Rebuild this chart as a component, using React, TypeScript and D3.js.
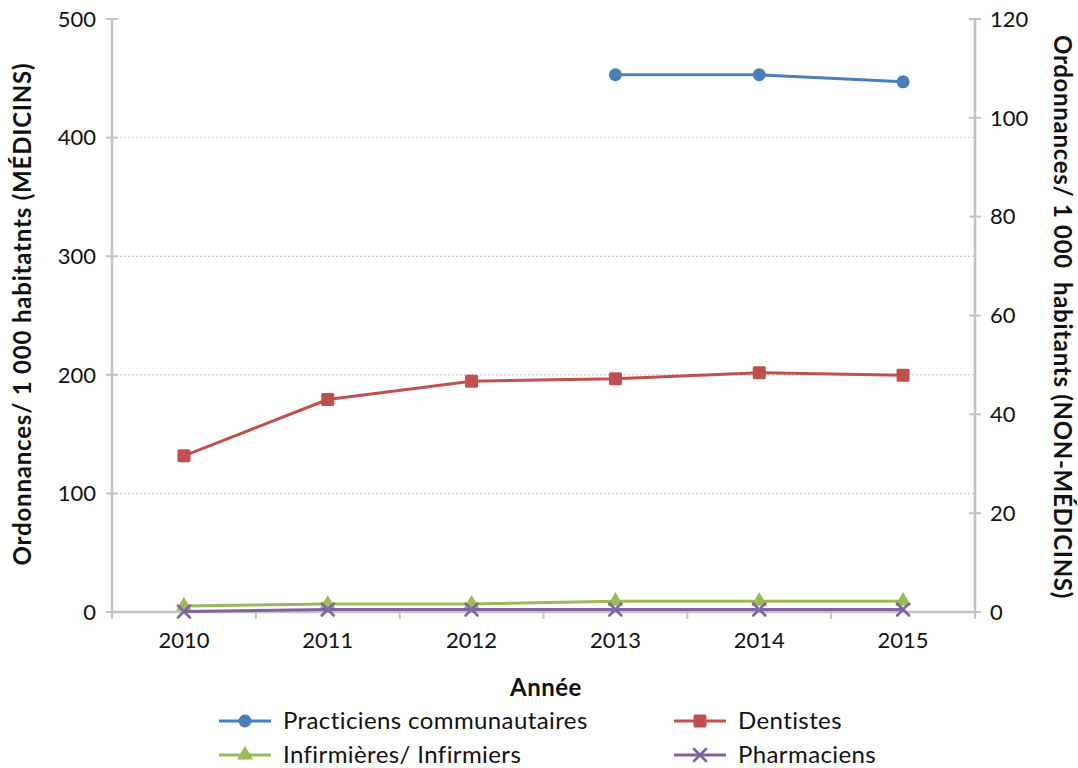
import React from 'react';
import * as d3 from 'd3';

// Prescriptions per 1 000 inhabitants, by prescriber group
const years = ['2010', '2011', '2012', '2013', '2014', '2015'];
const practiciens: (number | null)[] = [null, null, null, 453, 453, 447]; // left axis
const dentistes = [31.6, 43.0, 46.7, 47.2, 48.4, 47.9]; // right axis
const infirmieres = [1.2, 1.6, 1.6, 2.2, 2.2, 2.2]; // right axis
const pharmaciens = [0.1, 0.5, 0.5, 0.5, 0.5, 0.5]; // right axis
const leftTicks = [0, 100, 200, 300, 400, 500];
const rightTicks = [0, 20, 40, 60, 80, 100, 120];

const W = 1078;
const H = 768;
const FONT = 'Lato, "Open Sans", sans-serif';
const AXIS = '#c3c3c3';
const C_BLUE = '#4a7ebb';
const C_RED = '#c0504d';
const C_GREEN = '#9bbb59';
const C_PURPLE = '#8064a2';

const x = d3.scaleBand<string>().domain(years).range([112, 975]);
const yL = d3.scaleLinear().domain([0, 500]).range([612, 19]);
const yR = d3.scaleLinear().domain([0, 120]).range([612, 19]);
const cx = (yr: string) => (x(yr) as number) + x.bandwidth() / 2;

type Shape = 'circle' | 'square' | 'triangle' | 'cross';

function Marker({ shape, px, py, color }: { shape: Shape; px: number; py: number; color: string }) {
  if (shape === 'circle') return <circle cx={px} cy={py} r={6.5} fill={color} />;
  if (shape === 'square')
    return <rect x={px - 6.5} y={py - 6.5} width={13} height={13} rx={1.5} fill={color} />;
  if (shape === 'triangle')
    return (
      <path
        d={d3.symbol().type(d3.symbolTriangle).size(110)() as string}
        transform={`translate(${px},${py})`}
        fill={color}
      />
    );
  return (
    <g stroke={color} strokeWidth={2.6} strokeLinecap="round">
      <line x1={px - 6} y1={py - 6} x2={px + 6} y2={py + 6} />
      <line x1={px - 6} y1={py + 6} x2={px + 6} y2={py - 6} />
    </g>
  );
}

function Series({
  values,
  scale,
  color,
  shape,
}: {
  values: (number | null)[];
  scale: d3.ScaleLinear<number, number>;
  color: string;
  shape: Shape;
}) {
  const pts = years
    .map((yr, i) => ({ yr, v: values[i] }))
    .filter((d) => d.v !== null) as { yr: string; v: number }[];
  const line = d3
    .line<{ yr: string; v: number }>()
    .x((d) => cx(d.yr))
    .y((d) => scale(d.v));
  return (
    <g>
      <path d={line(pts) as string} fill="none" stroke={color} strokeWidth={3} strokeLinejoin="round" />
      {pts.map((d) => (
        <Marker key={d.yr} shape={shape} px={cx(d.yr)} py={scale(d.v)} color={color} />
      ))}
    </g>
  );
}

function LegendItem({ lx, ly, color, shape, label }: { lx: number; ly: number; color: string; shape: Shape; label: string }) {
  return (
    <g>
      <line x1={lx} y1={ly} x2={lx + 52} y2={ly} stroke={color} strokeWidth={3} />
      <Marker shape={shape} px={lx + 26} py={ly} color={color} />
      <text x={lx + 64} y={ly} dy="0.35em" fontSize={24} letterSpacing={0.4} fill="#111">
        {label}
      </text>
    </g>
  );
}

export default function App() {
  const boundaries = [...years.map((yr) => x(yr) as number), 975];
  return (
    <svg
      width={W}
      height={H}
      style={{ position: 'absolute', left: 0, top: 0, background: '#fff' }}
      fontFamily={FONT}
    >
      {/* horizontal gridlines */}
      {leftTicks
        .filter((t) => t > 0 && t < 500)
        .map((t) => (
          <line key={t} x1={112} x2={975} y1={yL(t)} y2={yL(t)} stroke="#c8c8c8" strokeWidth={1.5} strokeDasharray="1.5,2.5" />
        ))}

      {/* left axis */}
      <line x1={112} x2={112} y1={19} y2={612} stroke={AXIS} strokeWidth={2.5} />
      {leftTicks.map((t) => (
        <g key={t}>
          <line x1={106} x2={118} y1={yL(t)} y2={yL(t)} stroke={AXIS} strokeWidth={2} />
          <text x={96} y={yL(t)} dy="0.35em" textAnchor="end" fontSize={22} fill="#111">
            {t}
          </text>
        </g>
      ))}

      {/* right axis */}
      <line x1={975} x2={975} y1={19} y2={612} stroke={AXIS} strokeWidth={2.5} />
      {rightTicks.map((t) => (
        <g key={t}>
          <line x1={969} x2={981} y1={yR(t)} y2={yR(t)} stroke={AXIS} strokeWidth={2} />
          <text x={990} y={yR(t)} dy="0.35em" textAnchor="start" fontSize={22} fill="#111">
            {t}
          </text>
        </g>
      ))}

      {/* bottom axis */}
      <line x1={112} x2={975} y1={612} y2={612} stroke={AXIS} strokeWidth={2.5} />
      {boundaries.map((b, i) => (
        <line key={i} x1={b} x2={b} y1={612} y2={619} stroke={AXIS} strokeWidth={2} />
      ))}
      {years.map((yr) => (
        <text key={yr} x={cx(yr)} y={640} dy="0.35em" textAnchor="middle" fontSize={22} fill="#111">
          {yr}
        </text>
      ))}

      {/* axis titles */}
      <text
        transform="translate(23,314) rotate(-90)"
        textAnchor="middle"
        dy="0.35em"
        fontSize={24}
        letterSpacing={0.8}
        fontWeight="bold"
        fill="#111"
      >
        Ordonnances/ 1 000 habitatnts (MÉDICINS)
      </text>
      <text
        transform="translate(1062,317) rotate(90)"
        textAnchor="middle"
        dy="0.35em"
        fontSize={24}
        letterSpacing={0.7}
        fontWeight="bold"
        fill="#111"
        xmlSpace="preserve"
        style={{ whiteSpace: 'pre' }}
      >
        {'Ordonnances/ 1 000  habitants (NON-MÉDICINS)'}
      </text>
      <text x={546} y={688} dy="0.35em" textAnchor="middle" fontSize={24} letterSpacing={0.5} fontWeight="bold" fill="#111">
        Année
      </text>

      {/* series */}
      <Series values={infirmieres} scale={yR} color={C_GREEN} shape="triangle" />
      <Series values={pharmaciens} scale={yR} color={C_PURPLE} shape="cross" />
      <Series values={dentistes} scale={yR} color={C_RED} shape="square" />
      <Series values={practiciens} scale={yL} color={C_BLUE} shape="circle" />

      {/* legend */}
      <LegendItem lx={219} ly={721} color={C_BLUE} shape="circle" label="Practiciens communautaires" />
      <LegendItem lx={674} ly={721} color={C_RED} shape="square" label="Dentistes" />
      <LegendItem lx={219} ly={755} color={C_GREEN} shape="triangle" label="Infirmières/ Infirmiers" />
      <LegendItem lx={674} ly={755} color={C_PURPLE} shape="cross" label="Pharmaciens" />
    </svg>
  );
}
